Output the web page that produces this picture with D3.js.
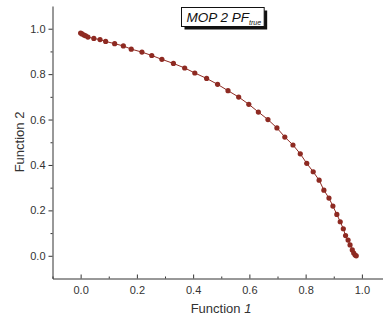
<!DOCTYPE html>
<html>
<head>
<meta charset="utf-8">
<script src="https://cdn.jsdelivr.net/npm/d3@7"></script>
<style>
body { margin: 0; background: #fff; }
svg { display: block; font-family: "Liberation Sans", Arial, sans-serif; }
.axis path, .axis line { stroke: #333; }
.axis text { fill: #333; font-size: 11px; font-family: "Liberation Sans", Arial, sans-serif; }
</style>
</head>
<body>
<div id="chart"></div>
<script>
var width = 383, height = 320;

// pareto front points
var f1 = [0.000, 0.005, 0.012, 0.018, 0.026, 0.047, 0.069, 0.089, 0.121, 0.152,
          0.180, 0.218, 0.253, 0.289, 0.330, 0.370, 0.406, 0.448, 0.487, 0.524,
          0.562, 0.598, 0.632, 0.666, 0.698, 0.726, 0.755, 0.781, 0.804, 0.827,
          0.848, 0.865, 0.883, 0.897, 0.911, 0.923, 0.934, 0.942, 0.951, 0.958,
          0.966, 0.971, 0.976, 0.980];
var f2 = [0.981, 0.977, 0.972, 0.969, 0.963, 0.957, 0.952, 0.944, 0.934, 0.924,
          0.910, 0.897, 0.882, 0.865, 0.847, 0.827, 0.805, 0.781, 0.755, 0.727,
          0.699, 0.667, 0.633, 0.600, 0.563, 0.523, 0.488, 0.449, 0.407, 0.370,
          0.333, 0.289, 0.254, 0.219, 0.182, 0.150, 0.119, 0.089, 0.069, 0.048,
          0.026, 0.012, 0.003, 0.000];

var majorTicks = [0.0, 0.2, 0.4, 0.6, 0.8, 1.0];
var minorTicks = [-0.1, 0.1, 0.3, 0.5, 0.7, 0.9, 1.1];

var points = f1.map(function(d, i) { return {x: d, y: f2[i]}; });

var x = d3.scaleLinear().domain([-0.1, 1.1]).range([52.5, 390]);
var y = d3.scaleLinear().domain([-0.1, 1.1]).range([278.5, 6]);

var svg = d3.select("#chart").append("svg")
    .attr("width", width)
    .attr("height", height);

var fmt = d3.format(".1f");

// x axis, ticks point up into the plot
svg.append("g")
    .attr("class", "axis")
    .attr("transform", "translate(0,278.5)")
    .call(d3.axisBottom(x).tickValues(majorTicks).tickFormat(fmt)
        .tickSizeInner(-4).tickSizeOuter(0).tickPadding(8));

svg.append("g")
    .attr("class", "axis minor")
    .attr("transform", "translate(0,278.5)")
    .call(d3.axisBottom(x).tickValues(minorTicks).tickFormat("")
        .tickSizeInner(-2).tickSizeOuter(0))
    .select(".domain").remove();

// y axis, ticks point out
svg.append("g")
    .attr("class", "axis")
    .attr("transform", "translate(52.5,0)")
    .call(d3.axisLeft(y).tickValues(majorTicks).tickFormat(fmt)
        .tickSizeInner(4).tickSizeOuter(0).tickPadding(3));

svg.append("g")
    .attr("class", "axis minor")
    .attr("transform", "translate(52.5,0)")
    .call(d3.axisLeft(y).tickValues(minorTicks.slice(1, 6)).tickFormat("")
        .tickSizeInner(2).tickSizeOuter(0))
    .select(".domain").remove();

// axis labels
var xl = svg.append("text")
    .attr("x", 221)
    .attr("y", 313)
    .attr("text-anchor", "middle")
    .style("font-size", "13px")
    .style("fill", "#333");
xl.append("tspan").text("Function ");
xl.append("tspan").style("font-style", "italic").text("1");

svg.append("text")
    .attr("transform", "translate(24,142) rotate(-90)")
    .attr("text-anchor", "middle")
    .style("font-size", "13px")
    .style("fill", "#333")
    .text("Function 2");

// the front
var line = d3.line()
    .x(function(d) { return x(d.x); })
    .y(function(d) { return y(d.y); });

svg.append("path")
    .datum(points)
    .attr("d", line)
    .attr("fill", "none")
    .attr("stroke", "#8e2a22")
    .attr("stroke-width", 1);

svg.selectAll("circle.pt")
    .data(points)
    .enter().append("circle")
    .attr("class", "pt")
    .attr("cx", function(d) { return x(d.x); })
    .attr("cy", function(d) { return y(d.y); })
    .attr("r", 2.6)
    .attr("fill", "#8e2a22");

// title box with shadow, sized from the text
var title = svg.append("g");
var bx = 181.5, by = 7.5, bh = 19;
var shadow = title.append("rect").attr("fill", "#111");
var box = title.append("rect")
    .attr("fill", "#fff")
    .attr("stroke", "#111")
    .attr("stroke-width", 1);
var tt = title.append("text")
    .attr("x", bx + 5)
    .attr("y", by + 14)
    .style("font-style", "italic")
    .style("font-size", "13.5px")
    .style("fill", "#111");
tt.append("tspan").text("MOP 2 PF");
tt.append("tspan")
    .attr("dy", 3)
    .style("font-size", "7px")
    .text("true");
var bw = tt.node().getBBox().width + 8;
box.attr("x", bx).attr("y", by).attr("width", bw).attr("height", bh);
shadow.attr("x", bx + 3).attr("y", by + 3).attr("width", bw).attr("height", bh);
</script>
</body>
</html>
